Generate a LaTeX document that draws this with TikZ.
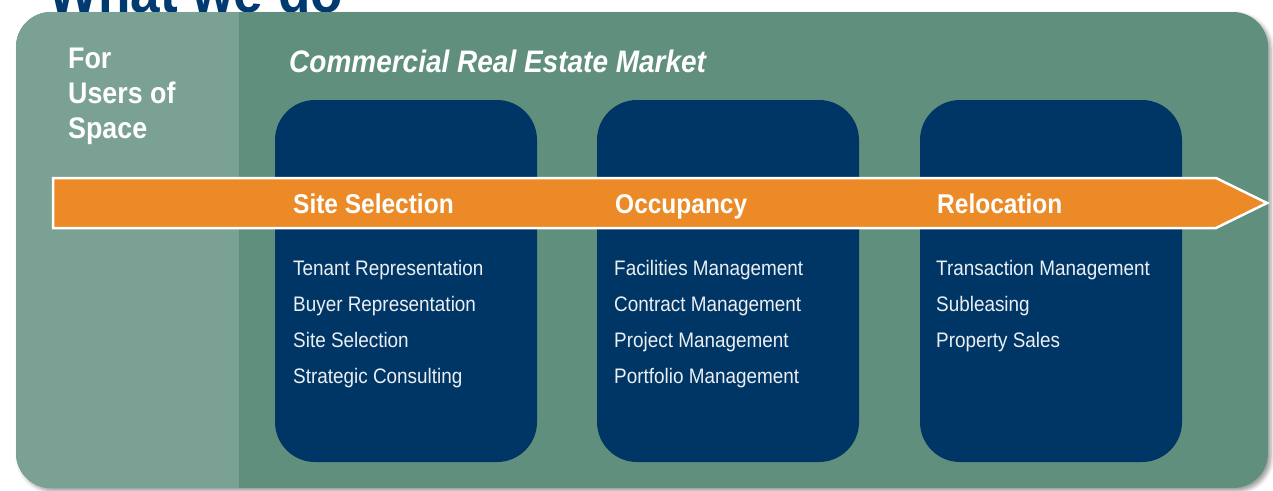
\documentclass[tikz,border=0pt]{standalone}
\usepackage{fontspec}
\setmainfont{Liberation Sans}[FakeStretch=0.9]
\usetikzlibrary{shadows.blur}
\definecolor{panellight}{HTML}{7BA194}
\definecolor{paneldark}{HTML}{608F7E}
\definecolor{boxblue}{HTML}{003665}
\definecolor{arroworange}{HTML}{EB8A26}
\definecolor{titleblue}{HTML}{003A70}
\tikzset{
  stagebox/.style={fill=boxblue, rounded corners=40pt},
  headtext/.style={anchor=base west, inner sep=0pt, text=white, font=\fontsize{27.2}{30}\selectfont\bfseries},
  itemtext/.style={anchor=base west, inner sep=0pt, text=white!92!boxblue, font=\fontsize{21}{24}\selectfont},
  sidetext/.style={anchor=base west, inner sep=0pt, text=white, font=\fontsize{29.8}{35}\selectfont\bfseries, align=left},
}
\begin{document}
\begin{tikzpicture}[x=1pt, y=-1pt]
\useasboundingbox (0,0) rectangle (1273,490);
\begin{scope}
\clip (0,0) rectangle (1273,490);
% title, cut off by the top edge
\node[anchor=base west, inner sep=0pt, text=titleblue, font=\fontsize{59}{60}\selectfont\bfseries] (title) at (48,12) {What we do};
% panel
\fill[paneldark, rounded corners=35pt, blur shadow={shadow xshift=3pt, shadow yshift=-3pt, shadow blur radius=4pt, shadow opacity=40}] (16,12) rectangle (1268,488);
\begin{scope}
\clip[rounded corners=35pt] (16,12) rectangle (1268,488);
\fill[panellight] (16,12) rectangle (239,488);
\end{scope}
\end{scope}
% side label
\node[sidetext] (users) at (68,68) {For};
\node[sidetext] (users2) at (68,103) {Users of};
\node[sidetext] (users3) at (68,138) {Space};
\node[anchor=base west, inner sep=0pt, text=white, font=\fontsize{31.1}{36}\selectfont\bfseries\itshape] (market) at (289,72) {Commercial Real Estate Market};
% stage boxes
\fill[stagebox] (275,100) rectangle (537,462);
\fill[stagebox] (597,100) rectangle (859,462);
\fill[stagebox] (920,100) rectangle (1182,462);
% arrow
\fill[arroworange, draw=white, line width=2.5pt, line join=miter] (53,178) -- (1216,178) -- (1267,203) -- (1216,228) -- (53,228) -- cycle;
% headings
\node[headtext] (h1) at (293,213) {Site Selection};
\node[headtext] (h2) at (615,213) {Occupancy};
\node[headtext] (h3) at (937,213) {Relocation};
% items
\node[itemtext] (a1) at (293,275) {Tenant Representation};
\node[itemtext] (a2) at (293,311) {Buyer Representation};
\node[itemtext] (a3) at (293,347) {Site Selection};
\node[itemtext] (a4) at (293,383) {Strategic Consulting};
\node[itemtext] (b1) at (614,275) {Facilities Management};
\node[itemtext] (b2) at (614,311) {Contract Management};
\node[itemtext] (b3) at (614,347) {Project Management};
\node[itemtext] (b4) at (614,383) {Portfolio Management};
\node[itemtext] (c1) at (936,275) {Transaction Management};
\node[itemtext] (c2) at (936,311) {Subleasing};
\node[itemtext] (c3) at (936,347) {Property Sales};
\end{tikzpicture}
\end{document}
